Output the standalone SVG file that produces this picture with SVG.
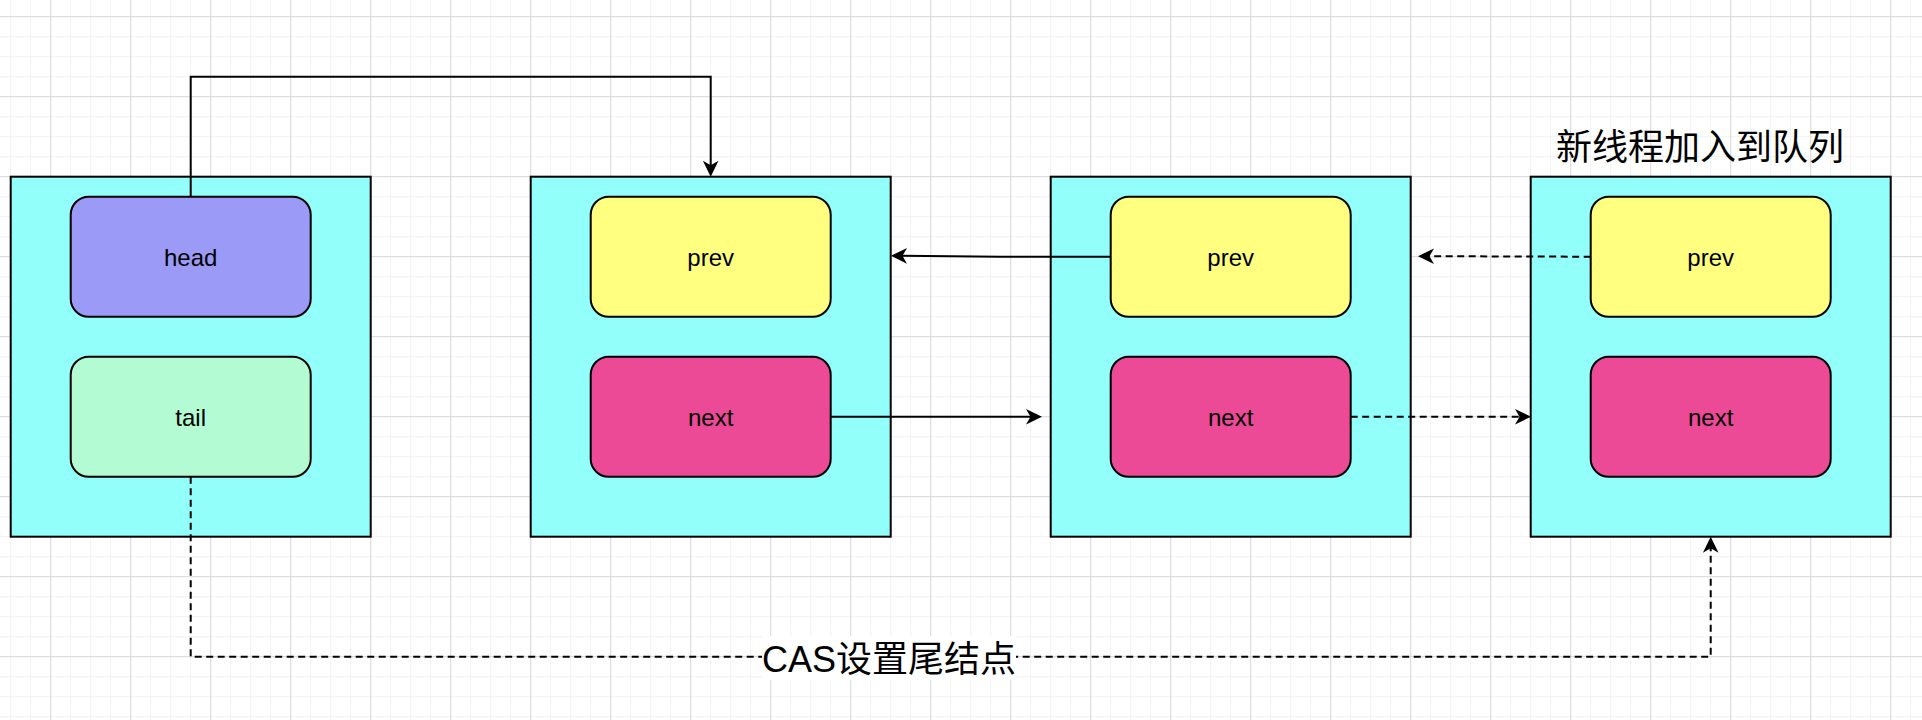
<svg xmlns="http://www.w3.org/2000/svg" width="1922" height="720" viewBox="0 0 1922 720">
  <defs>
    <pattern id="grid" patternUnits="userSpaceOnUse" x="10.2" y="16.2" width="80" height="80">
      <rect x="0" y="0" width="80" height="80" fill="#ffffff"/>
      <g fill="#f1f1f1">
        <rect x="0" y="0" width="1" height="80"/>
        <rect x="20" y="0" width="1" height="80"/>
        <rect x="60" y="0" width="1" height="80"/>
        <rect x="0" y="20" width="80" height="1"/>
        <rect x="0" y="40" width="80" height="1"/>
        <rect x="0" y="60" width="80" height="1"/>
      </g>
      <g fill="#d6d6d6">
        <rect x="40" y="0" width="1" height="80"/>
        <rect x="0" y="0" width="80" height="1"/>
      </g>
    </pattern>
    <marker id="arr" markerUnits="userSpaceOnUse" markerWidth="18" markerHeight="18" viewBox="0 0 18 18" refX="6" refY="9" orient="auto">
      <path d="M17,9 L1,1.2 L5.5,9 L1,16.8 Z" fill="#000000"/>
    </marker>
    <style>
      .box { fill: #93fffa; stroke: #000000; stroke-width: 2; }
      .fld { stroke: #000000; stroke-width: 2; }
      .head { fill: #9b9bf7; }
      .tail { fill: #b3fcd3; }
      .prev { fill: #ffff80; }
      .next { fill: #ec4a96; }
      .lbl { font-family: "Liberation Sans", Helvetica, Arial, sans-serif; font-size: 24px; fill: #000000; text-anchor: middle; }
      .big { font-family: "Liberation Sans", "Noto Sans CJK SC", sans-serif; font-size: 36px; fill: #000000; text-anchor: middle; }
      .edge { fill: none; stroke: #000000; stroke-width: 2; }
      .dash { stroke-dasharray: 7 4.5; }
    </style>
  </defs>

  <rect x="0" y="0" width="1922" height="720" fill="url(#grid)"/>

  <g id="node1">
    <rect class="box" x="10.7" y="176.7" width="360" height="360"/>
    <g id="node1-head">
      <rect class="fld head" x="70.7" y="196.7" width="240" height="120" rx="18" ry="18"/>
      <text class="lbl" x="190.7" y="265.5">head</text>
    </g>
    <g id="node1-tail">
      <rect class="fld tail" x="70.7" y="356.7" width="240" height="120" rx="18" ry="18"/>
      <text class="lbl" x="190.7" y="425.5">tail</text>
    </g>
  </g>

  <g id="node2">
    <rect class="box" x="530.7" y="176.7" width="360" height="360"/>
    <g id="node2-prev">
      <rect class="fld prev" x="590.7" y="196.7" width="240" height="120" rx="18" ry="18"/>
      <text class="lbl" x="710.7" y="265.5">prev</text>
    </g>
    <g id="node2-next">
      <rect class="fld next" x="590.7" y="356.7" width="240" height="120" rx="18" ry="18"/>
      <text class="lbl" x="710.7" y="425.5">next</text>
    </g>
  </g>

  <g id="node3">
    <rect class="box" x="1050.7" y="176.7" width="360" height="360"/>
    <g id="node3-prev">
      <rect class="fld prev" x="1110.7" y="196.7" width="240" height="120" rx="18" ry="18"/>
      <text class="lbl" x="1230.7" y="265.5">prev</text>
    </g>
    <g id="node3-next">
      <rect class="fld next" x="1110.7" y="356.7" width="240" height="120" rx="18" ry="18"/>
      <text class="lbl" x="1230.7" y="425.5">next</text>
    </g>
  </g>

  <g id="node4">
    <rect class="box" x="1530.7" y="176.7" width="360" height="360"/>
    <g id="node4-prev">
      <rect class="fld prev" x="1590.7" y="196.7" width="240" height="120" rx="18" ry="18"/>
      <text class="lbl" x="1710.7" y="265.5">prev</text>
    </g>
    <g id="node4-next">
      <rect class="fld next" x="1590.7" y="356.7" width="240" height="120" rx="18" ry="18"/>
      <text class="lbl" x="1710.7" y="425.5">next</text>
    </g>
  </g>

  <g id="title">
    <text class="big" x="1700" y="160">新线程加入到队列</text>
  </g>

  <g id="connectors">
    <path class="edge" d="M190.7,196.7 V76.7 H710.7 V165.7" marker-end="url(#arr)"/>
    <path class="edge" d="M1110.7,256.7 H1000 L902,255.8" marker-end="url(#arr)"/>
    <path class="edge" d="M830.7,416.7 H1031" marker-end="url(#arr)"/>
    <path class="edge dash" d="M1590.7,256.7 L1429,256.2" marker-end="url(#arr)"/>
    <path class="edge dash" d="M1350.7,416.7 H1520" marker-end="url(#arr)"/>
    <path class="edge dash" d="M190.7,476.7 V656.7 H1710.7 V547.7" marker-end="url(#arr)"/>
    <g id="cas-label">
      <rect x="762" y="636" width="254" height="44" fill="#ffffff"/>
      <text class="big" x="889" y="672">CAS设置尾结点</text>
    </g>
  </g>
</svg>
